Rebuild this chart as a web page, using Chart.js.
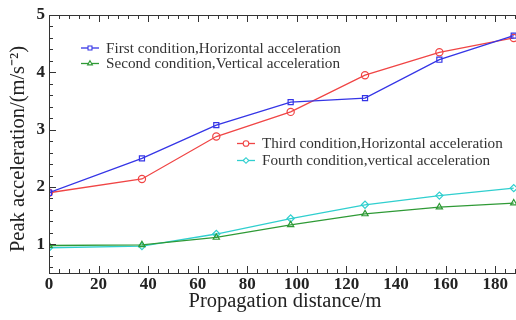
<!DOCTYPE html>
<html>
<head>
<meta charset="utf-8">
<script src="https://cdn.jsdelivr.net/npm/chart.js@4/dist/chart.umd.min.js"></script>
<style>
  html, body { margin: 0; padding: 0; background: #fff; overflow: hidden; }
  #wrap { width: 516px; height: 320px; overflow: hidden; }
</style>
</head>
<body>
<div id="wrap"><canvas id="c" width="540" height="320" style="width:540px;height:320px"></canvas></div>
<script>
// distances along the line (m)
const distance = [0, 37.5, 67.5, 97.5, 127.5, 157.5, 187.5];

const first_h  = [1.90, 2.50, 3.08, 3.48, 3.55, 4.22, 4.64];
const second_v = [0.98, 0.99, 1.12, 1.34, 1.53, 1.65, 1.72];
const third_h  = [1.90, 2.14, 2.88, 3.31, 3.95, 4.35, 4.60];
const fourth_v = [0.94, 0.97, 1.18, 1.45, 1.69, 1.85, 1.98];

const seriesNames = [
  'First condition,Horizontal acceleration',
  'Second condition,Vertical acceleration',
  'Third condition,Horizontal acceleration',
  'Fourth condition,vertical acceleration'
];

const xTicks = [0, 20, 40, 60, 80, 100, 120, 140, 160, 180];
const yTicks = [1, 2, 3, 4, 5];

const SERIF = '"Liberation Serif", "Times New Roman", serif';

function pts(ys) { return distance.map((d, i) => ({ x: d, y: ys[i] })); }

function ds(label, ys, color, style) {
  return {
    label: label,
    data: pts(ys),
    borderColor: color,
    backgroundColor: 'rgba(0,0,0,0)',
    borderWidth: 1.3,
    pointStyle: style,
    pointRadius: 3.6,
    pointBorderWidth: 1.2,
    pointBorderColor: color,
    pointBackgroundColor: 'rgba(255,255,255,0)',
    tension: 0
  };
}

// inward ticks, frame, axis titles and the two legend blocks
const decor = {
  id: 'decor',
  afterDraw(chart) {
    const ctx = chart.ctx;
    const a = chart.chartArea;
    const xs = chart.scales.x, ys = chart.scales.y;
    ctx.save();
    ctx.strokeStyle = '#333';
    ctx.lineWidth = 1;
    ctx.strokeRect(a.left + 0.5, a.top + 0.5, a.right - a.left, a.bottom - a.top);

    for (let v = 0; v <= xs.max; v += 4) {
      const px = Math.round(xs.getPixelForValue(v)) + 0.5;
      const len = v % 20 === 0 ? 7 : 4;
      ctx.beginPath();
      ctx.moveTo(px, a.bottom); ctx.lineTo(px, a.bottom - len);
      ctx.moveTo(px, a.top); ctx.lineTo(px, a.top + len);
      ctx.stroke();
    }
    for (let k = 3; k <= 25; k++) {
      const v = k * 0.2;
      const py = Math.round(ys.getPixelForValue(v)) + 0.5;
      const len = k % 5 === 0 ? 7 : 4;
      ctx.beginPath();
      ctx.moveTo(a.left, py); ctx.lineTo(a.left + len, py);
      ctx.stroke();
    }

    // axis titles
    ctx.fillStyle = '#222';
    ctx.font = '20.5px ' + SERIF;
    ctx.textAlign = 'center';
    ctx.textBaseline = 'middle';
    ctx.fillText('Propagation distance/m', 285, 302);
    ctx.save();
    ctx.translate(19, 149);
    ctx.rotate(-Math.PI / 2);
    ctx.fillText('Peak acceleration/(m/s\u207B\u00B2)', 0, 0);
    ctx.restore();

    // legends
    const blocks = [
      { x: 81, y: 48, gap: 15.5, items: [0, 1] },
      { x: 237, y: 143.5, gap: 17, items: [2, 3] }
    ];
    ctx.font = '15.2px ' + SERIF;
    ctx.textAlign = 'left';
    blocks.forEach(b => {
      b.items.forEach((idx, j) => {
        const d = chart.data.datasets[idx];
        const y = b.y + j * b.gap;
        ctx.strokeStyle = d.borderColor;
        ctx.lineWidth = 1.3;
        ctx.beginPath();
        ctx.moveTo(b.x, y); ctx.lineTo(b.x + 18, y);
        ctx.stroke();
        ctx.fillStyle = '#fff';
        ctx.lineWidth = 1.1;
        Chart.helpers.drawPoint(ctx, { pointStyle: d.pointStyle, radius: 2.8, rotation: 0, borderWidth: 1.1 }, b.x + 9, y);
        ctx.fillStyle = '#333';
        ctx.fillText(d.label, b.x + 25, y + 1);
      });
    });
    ctx.restore();
  }
};

new Chart(document.getElementById('c'), {
  type: 'line',
  data: {
    datasets: [
      ds(seriesNames[0], first_h, '#3535e6', 'rect'),
      ds(seriesNames[1], second_v, '#2f9a36', 'triangle'),
      ds(seriesNames[2], third_h, '#f04545', 'circle'),
      ds(seriesNames[3], fourth_v, '#30cfcf', 'rectRot')
    ]
  },
  options: {
    responsive: false,
    animation: false,
    events: [],
    layout: { padding: { top: 15, right: 1, left: 0, bottom: 0 } },
    plugins: { legend: { display: false }, tooltip: { enabled: false } },
    scales: {
      x: {
        type: 'linear',
        min: 0, max: 196,
        afterBuildTicks: s => { s.ticks = xTicks.map(v => ({ value: v })); },
        afterFit: s => { s.height = 47; },
        grid: { display: false, drawTicks: false },
        border: { display: false },
        ticks: { color: '#222', padding: 1, maxRotation: 0, autoSkip: false,
                 font: { family: SERIF, size: 17, weight: 'bold' } }
      },
      y: {
        type: 'linear',
        min: 0.5, max: 5,
        afterBuildTicks: s => { s.ticks = yTicks.map(v => ({ value: v })); },
        afterFit: s => { s.width = 49; },
        grid: { display: false, drawTicks: false },
        border: { display: false },
        ticks: { color: '#222', padding: 4,
                 font: { family: SERIF, size: 17, weight: 'bold' } }
      }
    }
  },
  plugins: [decor]
});
</script>
</body>
</html>
